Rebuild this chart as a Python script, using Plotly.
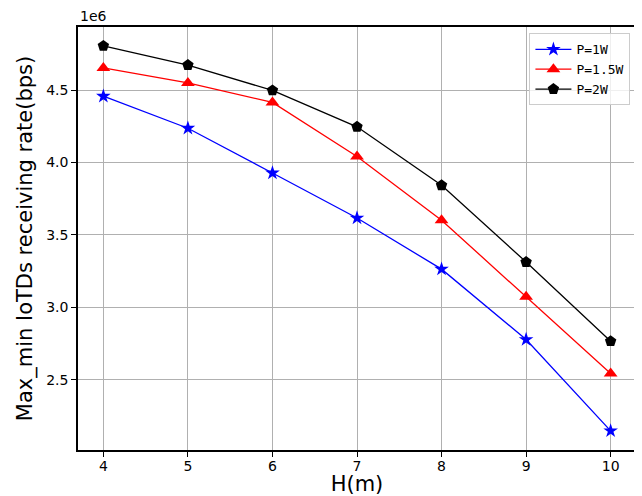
import plotly.graph_objects as go

H = [4, 5, 6, 7, 8, 9, 10]
rate_1w = [4.458e6, 4.237e6, 3.928e6, 3.617e6, 3.264e6, 2.778e6, 2.147e6]
rate_15w = [4.653e6, 4.550e6, 4.415e6, 4.042e6, 3.602e6, 3.073e6, 2.543e6]
rate_2w = [4.805e6, 4.673e6, 4.498e6, 4.247e6, 3.843e6, 3.313e6, 2.766e6]
series_names = ["P=1W", "P=1.5W", "P=2W"]
y_ticks = [2.5e6, 3.0e6, 3.5e6, 4.0e6, 4.5e6]
y_tick_labels = ["2.5", "3.0", "3.5", "4.0", "4.5"]

fig = go.Figure()
styles = [
    (rate_1w, "blue", "star", 11),
    (rate_15w, "red", "triangle-up", 12),
    (rate_2w, "black", "pentagon", 12),
]
for name, (vals, color, sym, sz) in zip(series_names, styles):
    fig.add_trace(go.Scatter(
        x=H, y=vals, name=name, mode="lines+markers",
        line=dict(color=color, width=1.3),
        marker=dict(symbol=sym, size=sz, color=color, line=dict(width=0)),
    ))

axis_common = dict(
    showline=True, linecolor="black", linewidth=1.5, mirror=True,
    ticks="outside", ticklen=5, tickcolor="black", tickwidth=1,
    showgrid=True, gridcolor="#b0b0b0", gridwidth=1, zeroline=False,
    tickfont=dict(family="DejaVu Sans", size=14, color="black"),
    automargin=False,
)
fig.update_xaxes(range=[3.7, 10.3], tickvals=H, ticktext=[str(h) for h in H],
                 ticklabelstandoff=-3,
                 title=dict(text="H(m)", font=dict(family="DejaVu Sans", size=21, color="black"), standoff=4),
                 **axis_common)
fig.update_yaxes(range=[2.015e6, 4.936e6], tickvals=y_ticks, ticktext=y_tick_labels,
                 title=dict(text="Max_min IoTDs receiving rate(bps)", font=dict(family="DejaVu Sans", size=21, color="black"), standoff=8),
                 **axis_common)

fig.add_annotation(text="1e6", xref="paper", yref="paper", x=0, y=1.0,
                   xanchor="left", yanchor="bottom", showarrow=False, yshift=1,
                   font=dict(family="DejaVu Sans", size=14, color="black"))

# page body has an 8px default margin, so the figure is sized to fit the 642x496 window
fig.update_layout(
    width=634, height=488,
    margin=dict(l=70, r=6, t=19, b=46, autoexpand=False),
    paper_bgcolor="white", plot_bgcolor="white",
    showlegend=True,
    legend=dict(x=0.99, y=0.985, xanchor="right", yanchor="top",
                bgcolor="rgba(255,255,255,0.8)", bordercolor="#cccccc", borderwidth=1,
                font=dict(family="DejaVu Sans Mono", size=13, color="black"),
                itemwidth=36, tracegroupgap=0),
)

fig.write_html("out.html")
